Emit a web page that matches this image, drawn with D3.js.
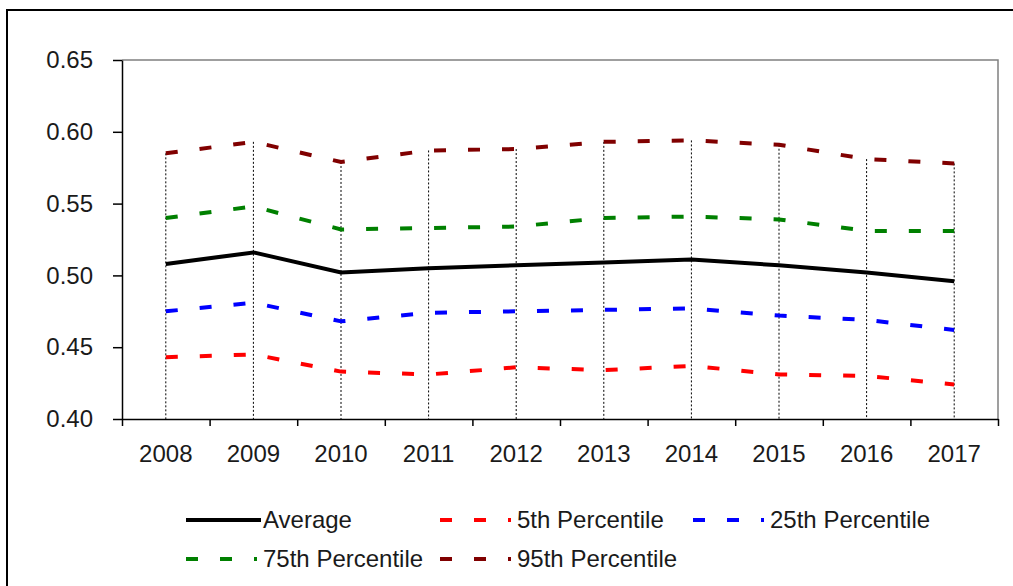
<!DOCTYPE html>
<html lang="en">
    <head>
        <meta charset="utf-8">
        <title>Percentiles 2008-2017</title>
        <script type="text/javascript" src="https://d3js.org/d3.v7.min.js"></script>
        <style type="text/css">
            body{ margin: 0; background: #fff; }
            text{ font-family: "Liberation Sans", Arial, sans-serif; fill: #1a1a1a; }
            .axis path, .axis line{ stroke: #000; stroke-width: 1.5px; }
            .drop{ stroke: #000; stroke-width: 1px; stroke-dasharray: 2,2; }
        </style>
    </head>
    <body>
        <svg id="chart" width="1013" height="586"></svg>
        <script type="text/javascript">
        //data
        const years = ["2008","2009","2010","2011","2012","2013","2014","2015","2016","2017"];
        const average = [0.508,0.516,0.502,0.505,0.507,0.509,0.511,0.507,0.502,0.496];
        const p5  = [0.443,0.445,0.433,0.431,0.436,0.434,0.437,0.431,0.430,0.424];
        const p25 = [0.475,0.481,0.468,0.474,0.475,0.476,0.477,0.472,0.469,0.462];
        const p75 = [0.540,0.548,0.532,0.533,0.534,0.540,0.541,0.539,0.531,0.531];
        const p95 = [0.585,0.593,0.579,0.587,0.588,0.593,0.594,0.591,0.581,0.578];
        const yTicks = [0.40,0.45,0.50,0.55,0.60,0.65];

        const series = [
            {name: "Average", values: average, color: "#000000", dash: null},
            {name: "5th Percentile", values: p5, color: "#ff0000", dash: "12,22"},
            {name: "25th Percentile", values: p25, color: "#0000ff", dash: "12,22"},
            {name: "75th Percentile", values: p75, color: "#008000", dash: "12,22"},
            {name: "95th Percentile", values: p95, color: "#800000", dash: "12,22"}
        ];

        const svg = d3.select("#chart");
        const pLeft = 122, pRight = 998, pTop = 60, pBottom = 419;

        //scales
        const x = d3.scaleBand().domain(years).range([pLeft, pRight]).padding(0);
        const xEdge = d3.scaleLinear().domain([0, years.length]).range([pLeft, pRight]);
        const y = d3.scaleLinear().domain([0.40, 0.65]).range([pBottom, pTop]);

        //outer frame
        svg.append("path")
            .attr("d", "M7,586 L7,10 L1013,10")
            .style("fill", "none").style("stroke", "#000").style("stroke-width", 2);

        //plot area border (top/right)
        svg.append("path")
            .attr("d", `M${pLeft},${pTop} L${pRight},${pTop} L${pRight},${pBottom}`)
            .style("fill", "none").style("stroke", "#808080").style("stroke-width", 1.5);

        //drop lines
        svg.selectAll(".drop")
            .data(years)
            .join("line")
            .attr("class", "drop")
            .attr("x1", d => x(d) + x.bandwidth()/2)
            .attr("x2", d => x(d) + x.bandwidth()/2)
            .attr("y1", (d,i) => y(p95[i]))
            .attr("y2", pBottom);

        //y axis
        const yAxis = svg.append("g")
            .attr("class", "axis")
            .attr("transform", `translate(${pLeft},0)`)
            .call(d3.axisLeft(y).tickValues(yTicks).tickFormat(d3.format(".2f")).tickSize(9).tickPadding(20).tickSizeOuter(0));
        yAxis.selectAll("text").style("font-size", "24px");

        //x axis: tick marks between categories
        svg.append("g")
            .attr("class", "axis")
            .attr("transform", `translate(0,${pBottom})`)
            .call(d3.axisBottom(xEdge).tickValues(d3.range(years.length + 1)).tickFormat("").tickSize(7).tickSizeOuter(0));

        //x labels
        const xLab = svg.append("g")
            .attr("transform", `translate(0,${pBottom})`)
            .call(d3.axisBottom(x).tickSize(0).tickPadding(26));
        xLab.select(".domain").remove();
        xLab.selectAll("text").style("font-size", "24px");

        //lines
        const line = d3.line()
            .x((d,i) => x(years[i]) + x.bandwidth()/2)
            .y(d => y(d));

        svg.selectAll(".series")
            .data(series)
            .join("path")
            .attr("class", "series")
            .attr("d", d => line(d.values))
            .style("fill", "none")
            .style("stroke", d => d.color)
            .style("stroke-width", 4)
            .style("stroke-dasharray", d => d.dash);

        //legend
        const legendPos = [[186,520],[440,520],[693,520],[186,559],[440,559]];
        const legend = svg.selectAll(".legend")
            .data(series)
            .join("g")
            .attr("class", "legend")
            .attr("transform", (d,i) => `translate(${legendPos[i][0]},${legendPos[i][1]})`);
        legend.append("line")
            .attr("x1", 0).attr("x2", d => d.dash ? 71 : 75)
            .attr("y1", 0).attr("y2", 0)
            .style("stroke", d => d.color)
            .style("stroke-width", 4)
            .style("stroke-dasharray", d => d.dash);
        legend.append("text")
            .attr("x", 77)
            .attr("dy", "0.35em")
            .style("font-size", "24px")
            .text(d => d.name);
        </script>
    </body>
</html>
